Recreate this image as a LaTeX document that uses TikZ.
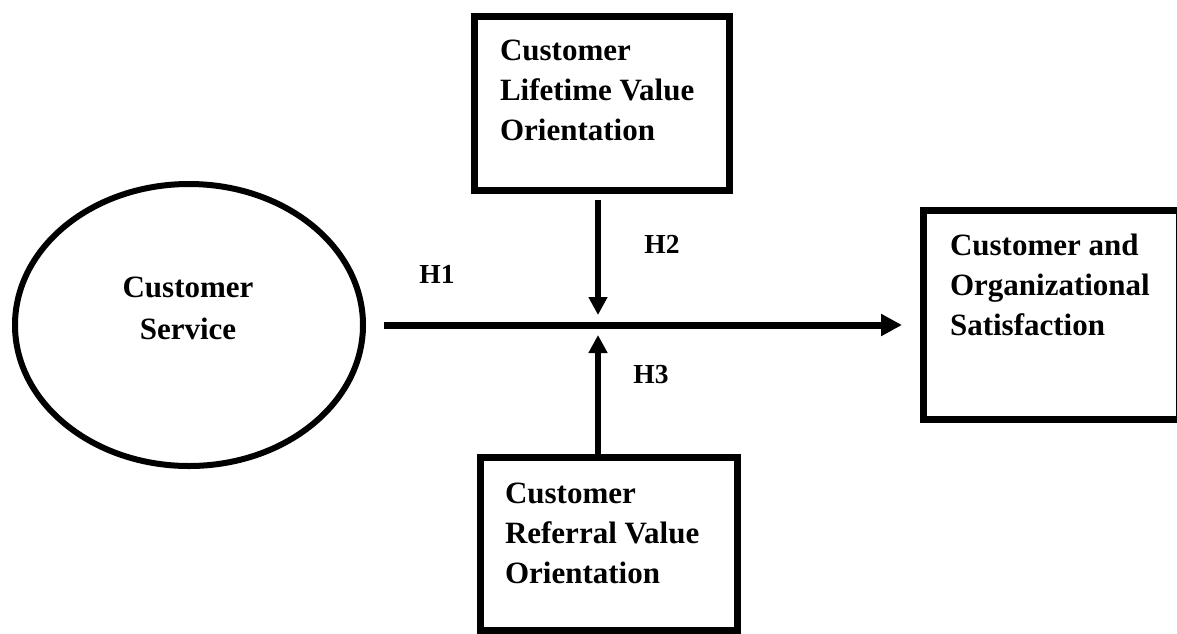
\documentclass[tikz,border=0pt]{standalone}
\usepackage{fontspec}
\setmainfont{Liberation Serif}
\usetikzlibrary{shapes.geometric,arrows.meta}
\begin{document}
\begin{tikzpicture}[x=1pt,y=-1pt,
  boxnode/.style={draw,rectangle,line width=7pt,inner sep=0pt,outer sep=0pt},
  ovalnode/.style={draw,ellipse,line width=6pt,inner sep=0pt,outer sep=0pt},
  txt/.style={inner sep=0pt,outer sep=0pt,font=\fontsize{31}{40}\selectfont\bfseries},
  hlab/.style={inner sep=0pt,outer sep=0pt,anchor=base,font=\fontsize{27.5}{30}\selectfont\bfseries},
  mainarrow/.style={line width=7pt,-{Triangle[length=21pt,width=21pt]}},
  modarrow/.style={line width=5.5pt,-{Triangle[length=18pt,width=18pt]}}]
\useasboundingbox (0,0) rectangle (1177,633);
\clip (0,0) rectangle (1177,633);
% shapes
\node[ovalnode,minimum width=348pt,minimum height=282pt] (cs) at (189,325) {};
\node[boxnode,minimum width=255pt,minimum height=174pt] (lv) at (601.5,103) {};
\node[boxnode,minimum width=257pt,minimum height=173pt] (rv) at (608.5,543.5) {};
\node[boxnode,minimum width=256pt,minimum height=209pt] (sat) at (1051,314.5) {};
% texts (base anchor = baseline of the last line)
\node[txt,anchor=base,align=center] (cstxt) at (188,339) {Customer\\[2pt]Service};
\node[txt,anchor=base west,align=left] (lvtxt) at (500,140) {Customer\\Lifetime Value\\Orientation};
\node[txt,anchor=base west,align=left] (rvtxt) at (505,583) {Customer\\Referral Value\\Orientation};
\node[txt,anchor=base west,align=left] (sattxt) at (950,335) {Customer and\\Organizational\\Satisfaction};
\node[hlab] (h1) at (437,283) {H1};
\node[hlab] (h2) at (662,253) {H2};
\node[hlab] (h3) at (651,383) {H3};
% connectors
\coordinate (j) at (598,325);
\draw[mainarrow] ([xshift=21pt]cs.east) -- ([xshift=-21pt]cs.east -| sat.west);
\draw[modarrow] ([yshift=-10pt]j |- lv.south) -- ([yshift=10pt]j);
\draw[modarrow] (j |- rv.north) -- ([yshift=-10pt]j);
\end{tikzpicture}
\end{document}
